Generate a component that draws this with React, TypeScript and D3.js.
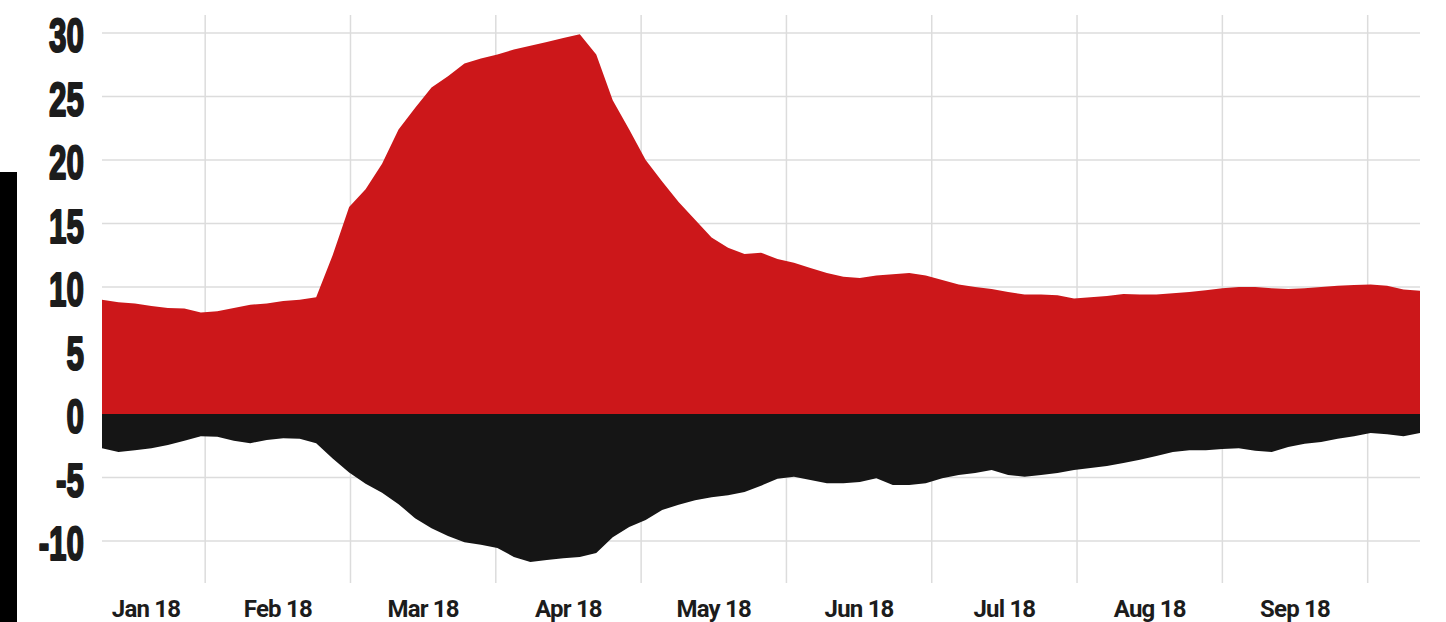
import React from 'react';
import * as d3 from 'd3';

// period covered, as month positions (0 = 1 Jan, 1 = 1 Feb ...)
const startMonth = 0.29;
const endMonth = 9.36;

const monthLabels = ['Jan 18', 'Feb 18', 'Mar 18', 'Apr 18', 'May 18', 'Jun 18', 'Jul 18', 'Aug 18', 'Sep 18'];
const yTicks = [-10, -5, 0, 5, 10, 15, 20, 25, 30];

// upper series (red), equally spaced samples over the period
const redValues = [
  9.0, 8.8, 8.7, 8.5, 8.35, 8.3, 8.0, 8.1, 8.35, 8.6,
  8.7, 8.9, 9.0, 9.2, 12.5, 16.3, 17.7, 19.7, 22.4, 24.1,
  25.7, 26.6, 27.6, 28.0, 28.3, 28.7, 29.0, 29.3, 29.6, 29.9,
  28.3, 24.7, 22.4, 20.0, 18.3, 16.7, 15.3, 13.9, 13.1, 12.6,
  12.7, 12.2, 11.9, 11.5, 11.1, 10.8, 10.7, 10.9, 11.0, 11.1,
  10.9, 10.55, 10.2, 10.0, 9.85, 9.6, 9.4, 9.4, 9.35, 9.1,
  9.2, 9.3, 9.45, 9.4, 9.4, 9.5, 9.6, 9.75, 9.9, 10.0,
  10.0, 9.9, 9.85, 9.9, 10.0, 10.1, 10.15, 10.2, 10.1, 9.8,
  9.7,
];

// lower series (black)
const blackValues = [
  -2.7, -3.0, -2.85, -2.7, -2.45, -2.1, -1.75, -1.8, -2.1, -2.3,
  -2.05, -1.9, -1.95, -2.3, -3.5, -4.6, -5.5, -6.2, -7.1, -8.2,
  -9.0, -9.6, -10.1, -10.3, -10.55, -11.25, -11.65, -11.5, -11.35, -11.25,
  -10.95, -9.7, -8.9, -8.35, -7.55, -7.15, -6.8, -6.55, -6.4, -6.15,
  -5.65, -5.1, -4.95, -5.2, -5.45, -5.45, -5.35, -5.05, -5.6, -5.6,
  -5.45, -5.05, -4.8, -4.65, -4.4, -4.8, -4.95, -4.8, -4.65, -4.4,
  -4.25, -4.1, -3.85, -3.6, -3.3, -3.0, -2.85, -2.85, -2.75, -2.7,
  -2.9, -3.0, -2.6, -2.35, -2.2, -1.95, -1.75, -1.5, -1.6, -1.75,
  -1.5,
];

const width = 1446;
const height = 622;
const plotLeft = 102;
const plotRight = 1420;

const RED = '#cc171a';
const BLACK = '#151515';
const GRID = '#dcdcdc';

export default function App() {
  const x = d3.scaleLinear().domain([startMonth, endMonth]).range([plotLeft, plotRight]);
  const y = d3.scaleLinear().domain([-10, 30]).range([541, 33]);

  const n = redValues.length;
  const monthAt = (i: number) => startMonth + (i * (endMonth - startMonth)) / (n - 1);

  const area = d3.area<number>()
    .x((_, i) => x(monthAt(i)))
    .y0(y(0))
    .y1(d => y(d));

  const gridMonths = d3.range(1, 10);

  return (
    <svg width={width} height={height} style={{ position: 'absolute', left: 0, top: 0, background: '#fff' }}>
      <rect x={0} y={172} width={17} height={height - 172} fill="#000" />

      {yTicks.map(t => (
        <line key={'h' + t} x1={plotLeft} x2={plotRight} y1={y(t)} y2={y(t)} stroke={GRID} strokeWidth={1.5} />
      ))}
      {gridMonths.map(m => (
        <line key={'v' + m} x1={x(m)} x2={x(m)} y1={15} y2={583} stroke={GRID} strokeWidth={1.5} />
      ))}

      <path d={area(redValues) || ''} fill={RED} />
      <path d={area(blackValues) || ''} fill={BLACK} />

      {yTicks.map(t => (
        <text
          key={'yl' + t}
          transform={`translate(84, ${y(t) + 19}) scale(0.64, 1)`}
          textAnchor="end"
          fontFamily="'Liberation Sans', Arial, sans-serif"
          fontWeight={700}
          fontSize={49}
          fill="#1c1c1c"
          stroke="#1c1c1c"
          strokeWidth={2.2}
          strokeLinejoin="round"
        >
          {t}
        </text>
      ))}

      {monthLabels.map((label, i) => (
        <text
          key={label}
          x={Math.max(x(i + 0.5), plotLeft + 44)}
          y={617}
          textAnchor="middle"
          fontFamily="Roboto, 'Liberation Sans', sans-serif"
          fontWeight={700}
          fontSize={24}
          letterSpacing={-0.8}
          fill="#1c1c1c"
        >
          {label}
        </text>
      ))}
    </svg>
  );
}
